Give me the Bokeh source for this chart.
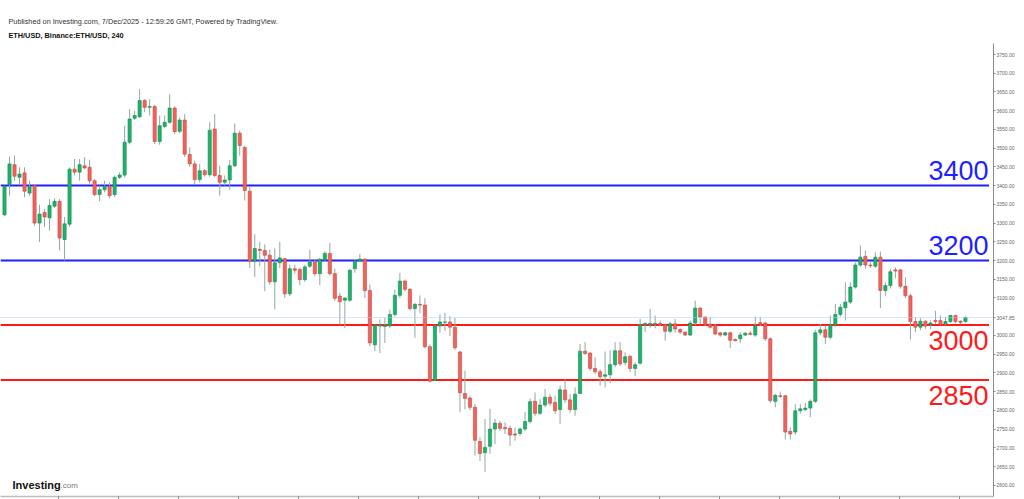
from bokeh.plotting import figure
from bokeh.models import (Range1d, Span, Label, Title, FixedTicker, NumeralTickFormatter,
                          ColumnDataSource, CustomJSTickFormatter)
from bokeh.embed import file_html
from bokeh.resources import INLINE

# ETH/USD 4h candles
opens = [3322, 3403, 3456, 3422, 3434, 3380, 3400, 3300, 3328, 3314,
         3345, 3358, 3256, 3297, 3444, 3436, 3453, 3449, 3413, 3376,
         3389, 3398, 3376, 3422, 3428, 3516, 3580, 3584, 3627, 3609,
         3611, 3518, 3558, 3569, 3607, 3545, 3575, 3483, 3458, 3416,
         3440, 3429, 3551, 3427, 3409, 3415, 3453, 3540, 3502, 3385,
         3198, 3230, 3227, 3214, 3143, 3194, 3205, 3111, 3178, 3176,
         3149, 3185, 3196, 3165, 3201, 3219, 3165, 3105, 3094, 3094,
         3178, 3198, 3204, 3120, 2975, 3025, 3024, 3025, 3056, 3107,
         3145, 3123, 3072, 3083, 3081, 2970, 2880, 3025, 3035, 3036,
         3022, 2956, 2845, 2833, 2808, 2717, 2687, 2704, 2750, 2765,
         2754, 2752, 2737, 2738, 2750, 2770, 2824, 2792, 2814, 2835,
         2821, 2802, 2854, 2828, 2802, 2845, 2958, 2953, 2912, 2903,
         2891, 2895, 2922, 2959, 2928, 2944, 2912, 2926, 3028, 3029,
         3031, 3032, 3028, 3011, 3031, 3016, 3009, 3001, 3033, 3073,
         3049, 3030, 3024, 3007, 3001, 3007, 2989, 2991, 3001, 3006,
         3001, 3034, 3033, 2991, 2824, 2839, 2839, 2744, 2742, 2799,
         2802, 2806, 2824, 3007, 3015, 2995, 3028, 3056, 3074, 3089,
         3129, 3188, 3211, 3188, 3185, 3209, 3120, 3133, 3175, 3175,
         3131, 3106, 3037, 3022, 3038, 3029, 3040, 3040, 3031, 3037,
         3053, 3038, 3037]
highs = [3400, 3477, 3480, 3449, 3449, 3413, 3402, 3349, 3338, 3364,
         3366, 3364, 3316, 3449, 3471, 3471, 3476, 3469, 3418, 3400,
         3413, 3409, 3427, 3436, 3560, 3604, 3600, 3658, 3631, 3631,
         3616, 3587, 3587, 3644, 3612, 3582, 3591, 3502, 3467, 3458,
         3444, 3569, 3591, 3453, 3427, 3469, 3566, 3547, 3507, 3398,
         3270, 3250, 3243, 3229, 3232, 3250, 3207, 3189, 3189, 3181,
         3189, 3229, 3203, 3207, 3225, 3247, 3178, 3114, 3101, 3178,
         3203, 3218, 3205, 3136, 3029, 3043, 3047, 3069, 3123, 3167,
         3149, 3127, 3087, 3107, 3100, 2976, 3029, 3056, 3060, 3051,
         3047, 2958, 2906, 2839, 2817, 2728, 2777, 2804, 2777, 2772,
         2768, 2759, 2754, 2754, 2795, 2832, 2848, 2830, 2857, 2844,
         2839, 2866, 2882, 2843, 2861, 2977, 2982, 2955, 2942, 2910,
         2957, 2960, 2982, 2982, 2955, 2948, 2928, 3044, 3035, 3071,
         3053, 3040, 3031, 3037, 3044, 3019, 3010, 3040, 3093, 3075,
         3051, 3049, 3030, 3009, 3010, 3010, 2992, 3009, 3009, 3012,
         3050, 3049, 3037, 2995, 2844, 2850, 2841, 2755, 2817, 2817,
         2820, 2829, 3015, 3031, 3026, 3053, 3084, 3084, 3142, 3142,
         3195, 3240, 3227, 3197, 3222, 3224, 3142, 3178, 3182, 3178,
         3155, 3111, 3049, 3046, 3040, 3040, 3066, 3053, 3049, 3055,
         3055, 3040, 3051]
lows = [3318, 3373, 3413, 3404, 3369, 3373, 3293, 3249, 3289, 3280,
        3340, 3227, 3200, 3290, 3427, 3413, 3444, 3405, 3372, 3358,
        3382, 3365, 3369, 3418, 3422, 3510, 3575, 3580, 3596, 3587,
        3511, 3509, 3553, 3565, 3538, 3540, 3476, 3450, 3404, 3408,
        3424, 3424, 3422, 3373, 3400, 3389, 3449, 3480, 3360, 3180,
        3156, 3185, 3118, 3135, 3069, 3180, 3100, 3105, 3165, 3134,
        3143, 3180, 3158, 3134, 3196, 3160, 3092, 3029, 3020, 3090,
        3167, 3196, 3100, 2971, 2958, 2953, 2980, 3020, 3050, 3100,
        3118, 3066, 2994, 3060, 2965, 2874, 2878, 3007, 3012, 2998,
        2961, 2795, 2803, 2800, 2679, 2665, 2636, 2684, 2710, 2745,
        2737, 2705, 2719, 2732, 2745, 2765, 2785, 2788, 2808, 2812,
        2790, 2763, 2820, 2793, 2786, 2844, 2948, 2905, 2897, 2866,
        2861, 2873, 2915, 2918, 2920, 2902, 2891, 2922, 3009, 3020,
        3019, 3025, 2986, 3006, 3008, 3004, 2998, 2998, 3028, 3030,
        3025, 3018, 3000, 2996, 2998, 2966, 2984, 2980, 2998, 3000,
        2996, 3025, 2985, 2820, 2808, 2834, 2722, 2722, 2735, 2791,
        2798, 2782, 2819, 3000, 2977, 2990, 3022, 3050, 3040, 3084,
        3125, 3183, 3178, 3180, 3180, 3073, 3106, 3125, 3153, 3125,
        3100, 2989, 3009, 3014, 3018, 3017, 3030, 3027, 3027, 3033,
        3033, 3030, 3034]
closes = [3398, 3458, 3425, 3431, 3385, 3397, 3300, 3324, 3316, 3347,
          3358, 3260, 3298, 3444, 3436, 3456, 3447, 3413, 3376, 3389,
          3398, 3373, 3422, 3428, 3516, 3578, 3587, 3627, 3609, 3611,
          3518, 3560, 3569, 3607, 3544, 3575, 3484, 3458, 3416, 3440,
          3429, 3548, 3427, 3409, 3415, 3453, 3540, 3507, 3387, 3198,
          3232, 3227, 3214, 3143, 3194, 3207, 3111, 3178, 3174, 3149,
          3183, 3196, 3165, 3203, 3219, 3165, 3099, 3090, 3100, 3174,
          3198, 3204, 3120, 2980, 3027, 3027, 3027, 3056, 3107, 3145,
          3123, 3072, 3083, 3081, 2970, 2878, 3025, 3036, 3036, 3022,
          2967, 2847, 2832, 2808, 2720, 2685, 2701, 2750, 2766, 2752,
          2751, 2734, 2734, 2750, 2770, 2823, 2792, 2814, 2835, 2819,
          2799, 2855, 2828, 2802, 2843, 2958, 2952, 2912, 2903, 2890,
          2895, 2922, 2959, 2924, 2943, 2912, 2922, 3028, 3032, 3032,
          3032, 3028, 3011, 3031, 3017, 3009, 3001, 3033, 3073, 3049,
          3031, 3022, 3004, 3001, 3007, 2987, 2986, 3001, 3006, 3003,
          3026, 3032, 2991, 2826, 2840, 2837, 2742, 2737, 2799, 2804,
          2806, 2824, 3007, 3015, 2995, 3028, 3056, 3075, 3089, 3129,
          3188, 3209, 3188, 3186, 3209, 3120, 3133, 3170, 3172, 3131,
          3106, 3037, 3022, 3038, 3025, 3033, 3037, 3031, 3037, 3053,
          3037, 3035, 3047.85]

levels = [3400, 3200, 3028, 2881]
level_labels = ["3400", "3200", "3000", "2850"]
last_price = 3047.85
# 3050.00 is hidden behind the last-price marker in the original
y_ticks = [v for v in range(2600, 3751, 50) if v != 3050] + [last_price]
x_ticks = [11.8 + 12 * k for k in range(16)]

title_main = "ETH/USD, Binance:ETH/USD, 240"
title_pub = "Published on Investing.com, 7/Dec/2025 - 12:59:26 GMT, Powered by TradingView."

GREEN_F, GREEN_L = "#1fb26c", "#138a52"
RED_F, RED_L = "#f0645c", "#c8453f"
BLUE, RED = "#1f1fff", "#ff1a1a"

n = len(opens)
xs = list(range(1, n + 1))
inc = [c >= o for o, c in zip(opens, closes)]
src = ColumnDataSource(dict(
    x=xs, high=highs, low=lows,
    top=[max(o, c) for o, c in zip(opens, closes)],
    bottom=[min(o, c) for o, c in zip(opens, closes)],
    fill=[GREEN_F if u else RED_F for u in inc],
    line=[GREEN_L if u else RED_L for u in inc],
))

X0, X1 = 0.2, 198.6
Y0, Y1 = 2570.0, 3779.4
p = figure(width=1024, height=499, output_backend="svg", toolbar_location=None,
           x_range=Range1d(X0, X1), y_range=Range1d(Y0, Y1),
           y_axis_location="right", min_border_left=0, min_border_right=31,
           min_border_top=43, min_border_bottom=3)
p.outline_line_color = None
p.grid.visible = False
p.background_fill_color = "white"
p.border_fill_color = "white"

t_main = Title(text=title_main, align="left", text_font="Liberation Sans",
               text_font_size="7.3px", text_font_style="bold", text_color="#111111",
               standoff=8, offset=8)
t_pub = Title(text=title_pub, align="left", text_font="Liberation Sans",
              text_font_size="7.3px", text_font_style="normal", text_color="#333333",
              standoff=0, offset=8)
try:
    t_pub.standoff = -3
except ValueError:
    pass
p.add_layout(t_main, "above")
p.add_layout(t_pub, "above")

yax = p.yaxis[0]
yax.ticker = FixedTicker(ticks=y_ticks)
yax.formatter = NumeralTickFormatter(format="0.00")
yax.axis_line_color = "#8a8a8a"
yax.major_tick_line_color = "#8a8a8a"
yax.major_tick_out = 2
yax.major_tick_in = 0
yax.minor_tick_line_color = None
yax.major_label_standoff = 1
yax.major_label_text_font = "Liberation Sans"
yax.major_label_text_font_size = "5px"
yax.major_label_text_color = "#666666"

xax = p.xaxis[0]
xax.ticker = FixedTicker(ticks=x_ticks)
xax.formatter = CustomJSTickFormatter(code="return ''")
xax.axis_line_color = "#bbbbbb"
xax.axis_line_width = 1.5
xax.major_tick_line_color = "#888888"
xax.major_tick_out = 3
xax.major_tick_in = 0
xax.minor_tick_line_color = None
xax.major_label_text_font_size = "1px"
xax.major_label_standoff = 0

# price line
p.add_layout(Span(location=last_price, dimension="width", line_color="#b4c8f2",
                  line_width=1, line_dash="1 1"))

# support / resistance lines
for i, lv in enumerate(levels):
    col = BLUE if i < 2 else RED
    p.segment(x0=X0, y0=lv, x1=X1 - 0.9, y1=lv, line_color=col, line_width=2)

p.segment(x0="x", y0="low", x1="x", y1="high", source=src, line_color="#93a89d", line_width=1)
p.vbar(x="x", width=0.64, top="top", bottom="bottom", fill_color="fill",
       line_color="line", line_width=0.6, source=src)

for i, (lv, lab) in enumerate(zip(levels, level_labels)):
    col = BLUE if i < 2 else RED
    p.add_layout(Label(x=X1, y=lv, text=lab, text_align="right", text_baseline="middle",
                       x_offset=-5, y_offset=15 if i < 2 else -15.5,
                       text_font="Liberation Sans", text_font_size="27px", text_color=col))

# logo
p.add_layout(Label(x=X0, y=Y0, text="Investing", x_offset=12, y_offset=12,
                   text_baseline="middle", text_font="Liberation Sans",
                   text_font_size="11px", text_font_style="bold", text_color="#111111"))
p.add_layout(Label(x=X0, y=Y0, text=".com", x_offset=60, y_offset=11,
                   text_baseline="middle", text_font="Liberation Sans",
                   text_font_size="8px", text_color="#777777"))

open("out.html", "w").write(file_html(p, INLINE))
